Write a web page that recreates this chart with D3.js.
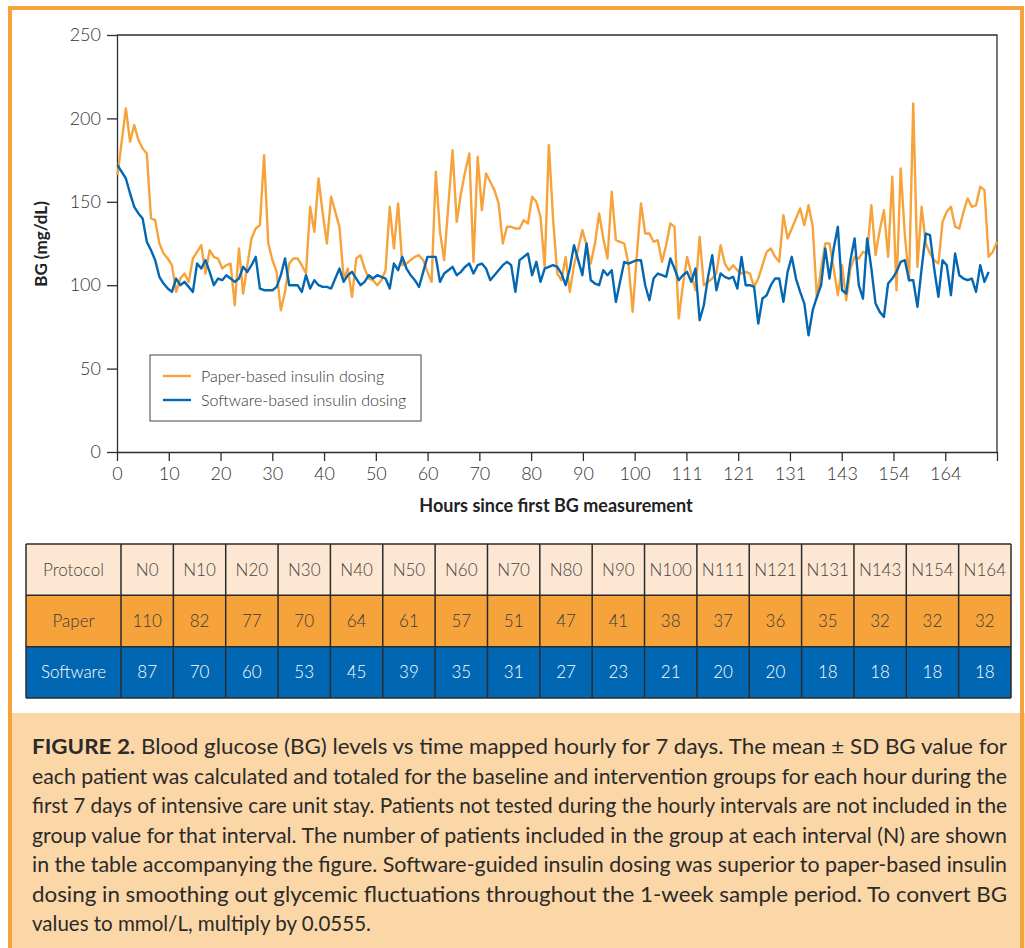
<!DOCTYPE html>
<html><head><meta charset="utf-8">
<script src="https://cdn.jsdelivr.net/npm/d3@7/dist/d3.min.js"></script>
<style>body{margin:0;background:#fff;} svg{display:block;}</style>
</head><body>
<svg id="c" width="1025" height="948"></svg>
<script>
// ---------- DATA ----------
const paper = [166,186,206,186,196,187,182,179,140,139,125,119,116,112,96,104,107,102,116,120,
124,107,121,117,116,110,112,113,88,122,95,112,128,134,136,178,125,115,108,85,
96,113,116,116,112,107,147,132,164,143,125,153,144,135,104,110,93,116,118,110,
104,103,100,103,109,147,122,149,112,113,115,117,118,115,108,102,168,132,115,148,
181,138,155,168,179,114,177,145,167,162,157,149,125,135,135,134,134,139,137,153,
150,141,111,184,140,107,103,117,96,112,122,133,124,113,125,143,128,116,156,127,
126,125,113,84,118,149,131,131,126,127,114,124,137,135,80,100,117,107,97,129,
100,102,104,107,124,113,109,112,109,107,108,107,99,104,112,120,122,117,114,142,
128,134,140,146,136,148,135,92,110,125,125,110,94,112,91,110,117,116,120,119,
148,118,133,145,117,165,97,170,130,103,209,111,147,125,119,115,113,138,144,147,
135,134,144,152,147,148,159,157,117,120,126];
const software = [172,168,164,155,147,143,140,126,121,115,105,101,98,96,104,100,102,99,96,113,
110,115,108,100,104,103,106,104,102,104,111,108,112,117,98,97,97,97,99,106,
116,100,100,100,96,106,98,103,100,99,99,98,104,110,102,106,108,104,100,102,
106,104,106,105,104,98,113,109,117,110,106,103,99,108,117,117,117,102,107,109,
111,106,108,111,113,107,112,113,110,103,106,109,112,114,112,96,115,117,119,106,
114,102,110,111,112,111,107,100,110,124,115,106,125,103,101,100,109,106,109,90,
102,114,113,114,115,115,100,91,104,107,106,105,116,110,103,106,108,102,110,79,
88,105,118,97,107,105,104,105,98,117,100,100,99,77,92,94,100,104,104,90,
108,117,104,96,89,70,85,93,100,122,104,122,135,97,95,115,128,100,92,128,
110,89,84,81,101,104,108,114,115,103,103,87,110,131,130,110,93,115,112,94,
119,106,104,103,104,96,112,102,108];
const seriesNames = ["Paper-based insulin dosing","Software-based insulin dosing"];
const hourTicks = [0,10,20,30,40,50,60,70,80,90,100,110,120,130,140,150,160,170];
const hourLabels = ["0","10","20","30","40","50","60","70","80","90","100","111","121","131","143","154","164",""];
const yTicks = [0,50,100,150,200,250];
const protocols = ["N0","N10","N20","N30","N40","N50","N60","N70","N80","N90","N100","N111","N121","N131","N143","N154","N164"];
const paperN = [110,82,77,70,64,61,57,51,47,41,38,37,36,35,32,32,32];
const softwareN = [87,70,60,53,45,39,35,31,27,23,21,20,20,18,18,18,18];
const rowNames = ["Protocol","Paper","Software"];
const captionLines = [
 ["FIGURE 2.", " Blood glucose (BG) levels vs time mapped hourly for 7 days. The mean \u00b1 SD BG value for"],
 ["", "each patient was calculated and totaled for the baseline and intervention groups for each hour during the"],
 ["", "first 7 days of intensive care unit stay. Patients not tested during the hourly intervals are not included in the"],
 ["", "group value for that interval. The number of patients included in the group at each interval (N) are shown"],
 ["", "in the table accompanying the figure. Software-guided insulin dosing was superior to paper-based insulin"],
 ["", "dosing in smoothing out glycemic fluctuations throughout the 1-week sample period. To convert BG"],
 ["", "values to mmol/L, multiply by 0.0555."]
];

// ---------- STYLE ----------
const ORANGE = "#F7A33B", BLUE = "#0467B2", AX = "#2e2e2e";
const FONT = "Lato, 'Open Sans', sans-serif";
const svg = d3.select("#c");

// figure frame + caption box
svg.append("rect").attr("x",10).attr("y",713).attr("width",1015).attr("height",240).attr("fill","#FBD6A7");
svg.append("path").attr("d","M10,960 V8 H1022 V960").attr("fill","none").attr("stroke",ORANGE).attr("stroke-width",4);

// ---------- CHART ----------
const L = 117, R = 997, T = 35, B = 452;
const x = d3.scaleLinear().domain([0, paper.length - 1]).range([L + 0.5, R]);
const xh = d3.scaleLinear().domain([0, 170]).range([L, R]);
const y = d3.scaleLinear().domain([0, 250]).range([B, T]);

// frame top/right
svg.append("path").attr("d",`M${L},${T}H${R}V${B}`).attr("fill","none").attr("stroke",AX).attr("stroke-width",1.3);

const yAxis = svg.append("g").attr("transform",`translate(${L},0)`)
  .call(d3.axisLeft(y).tickValues(yTicks).tickSize(10).tickPadding(6).tickSizeOuter(0));
const xAxis = svg.append("g").attr("transform",`translate(0,${B})`)
  .call(d3.axisBottom(xh).tickValues(hourTicks).tickFormat((d,i)=>hourLabels[i]).tickSize(9).tickPadding(6).tickSizeOuter(0));
[yAxis,xAxis].forEach(g=>{
  g.selectAll("path,line").attr("stroke",AX).attr("stroke-width",1.3);
  g.selectAll("text").attr("font-family",FONT).attr("font-weight",300).attr("font-size",18).attr("fill","#333");
});

const line = d3.line().x((d,i)=>x(i)).y(d=>y(d));
svg.append("path").datum(paper).attr("d",line).attr("fill","none").attr("stroke",ORANGE).attr("stroke-width",2.4).attr("stroke-linejoin","round");
svg.append("path").datum(software).attr("d",line).attr("fill","none").attr("stroke",BLUE).attr("stroke-width",2.4).attr("stroke-linejoin","round");

// axis titles
svg.append("text").attr("x",556).attr("y",512).attr("text-anchor","middle")
  .attr("font-family",FONT).attr("font-weight",700).attr("font-size",18).attr("fill","#222")
  .text("Hours since first BG measurement");
svg.append("text").attr("transform","translate(47,244) rotate(-90)").attr("text-anchor","middle")
  .attr("font-family",FONT).attr("font-weight",700).attr("font-size",17).attr("fill","#222")
  .text("BG (mg/dL)");

// legend
const lg = svg.append("g").attr("transform","translate(150,355)");
lg.append("rect").attr("width",271).attr("height",66).attr("fill","#fff").attr("stroke","#444").attr("stroke-width",1);
[ORANGE,BLUE].forEach((c,i)=>{
  lg.append("line").attr("x1",13).attr("x2",41).attr("y1",21+i*24).attr("y2",21+i*24).attr("stroke",c).attr("stroke-width",2.4);
  lg.append("text").attr("x",51).attr("y",27+i*24).attr("font-family",FONT).attr("font-weight",300)
    .attr("font-size",16).attr("fill","#333").text(seriesNames[i]);
});

// ---------- TABLE ----------
const col = d3.scaleBand().domain(protocols).range([121, 1011]);
const row = d3.scaleBand().domain(rowNames).range([544, 698]);
const fills = {"Protocol":"#FDE7D2","Paper":ORANGE,"Software":"#0167B2"};
const txtCol = {"Protocol":"#444","Paper":"#3a3a3a","Software":"#ffffff"};
const tbl = svg.append("g");
rowNames.forEach(r=>{
  tbl.append("rect").attr("x",26).attr("y",row(r)).attr("width",1011-26).attr("height",row.bandwidth()).attr("fill",fills[r]);
});
const cellText = {"Protocol":protocols,"Paper":paperN,"Software":softwareN};
rowNames.forEach(r=>{
  const cy = row(r)+row.bandwidth()/2;
  tbl.append("text").attr("x",(26+121)/2).attr("y",cy).attr("dy","0.35em").attr("text-anchor","middle")
    .attr("font-family",FONT).attr("font-weight",300).attr("font-size",17).attr("fill",txtCol[r]).text(r);
  tbl.selectAll(null).data(cellText[r]).enter().append("text")
    .attr("x",(d,i)=>col(protocols[i])+col.bandwidth()/2).attr("y",cy).attr("dy","0.35em").attr("text-anchor","middle")
    .attr("font-family",FONT).attr("font-weight",300).attr("font-size",17).attr("fill",txtCol[r]).text(d=>d);
});
// grid lines
const gl = tbl.append("g").attr("stroke","#2b2b2b").attr("stroke-width",1.5);
[544,...rowNames.map(r=>row(r)+row.bandwidth())].forEach(yy=>gl.append("line").attr("x1",26).attr("x2",1011).attr("y1",yy).attr("y2",yy));
[26,...protocols.map(p=>col(p)),1011].forEach(xx=>gl.append("line").attr("x1",xx).attr("x2",xx).attr("y1",544).attr("y2",698));

// ---------- CAPTION ----------
const cap = svg.append("g").attr("font-family",FONT).attr("font-size",20.5).attr("fill","#2a2a2a");
captionLines.forEach((ln,i)=>{
  const t = cap.append("text").attr("x",32).attr("y",754+i*29.5);
  if (i < captionLines.length-1) t.attr("textLength",1007-32).attr("lengthAdjust","spacingAndGlyphs");
  if (ln[0]) t.append("tspan").attr("font-weight",700).text(ln[0]);
  t.append("tspan").attr("font-weight",400).text(ln[1]);
});
</script>
</body></html>
